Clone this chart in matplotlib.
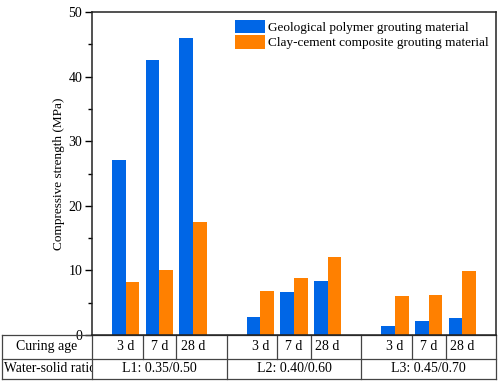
import matplotlib
matplotlib.use("Agg")
import matplotlib.pyplot as plt
from matplotlib.transforms import Bbox, TransformedBbox, blended_transform_factory
from matplotlib.ticker import MultipleLocator

plt.rcParams['font.family'] = ['Liberation Serif', 'DejaVu Serif']
plt.rcParams['font.size'] = 10

# data
ratios = ['L1: 0.35/0.50', 'L2: 0.40/0.60', 'L3: 0.45/0.70']
ages = ['3 d', '7 d', '28 d']
geopolymer = [27.1, 42.6, 46.0, 2.85, 6.7, 8.35, 1.35, 2.1, 2.6]
clay_cement = [8.15, 10.0, 17.5, 6.8, 8.8, 12.0, 6.1, 6.2, 9.85]
series_names = ['Geological polymer grouting material',
                'Clay-cement composite grouting material']
row_names = ['Curing age', 'Water-solid ratio']

BLUE = '#0066e6'
ORANGE = '#ff8000'
W = 0.41

fig = plt.figure(figsize=(4.98, 3.81), dpi=100)
ax = fig.add_axes([92 / 498, 46 / 381, 404 / 498, 323 / 381])

pos = [g * 4 + i for g in range(len(ratios)) for i in range(len(ages))]
ax.bar([p - W / 2 for p in pos], geopolymer, W, color=BLUE, label=series_names[0])
ax.bar([p + W / 2 for p in pos], clay_cement, W, color=ORANGE, label=series_names[1])

ax.set_xlim(-1, 11)
ax.set_ylim(0, 50)
ax.set_xticks([])
ax.yaxis.set_major_locator(MultipleLocator(10))
ax.yaxis.set_minor_locator(MultipleLocator(5))
ax.tick_params(axis='y', which='major', direction='out', length=5, width=1, pad=2)
ax.tick_params(axis='y', which='minor', direction='out', length=3, width=1)
ax.set_ylabel('Compressive strength (MPa)', labelpad=2.5, fontsize=9.5)
for s in ax.spines.values():
    s.set_linewidth(1.1)
    s.set_color('#222222')

ax.legend(loc='upper left', bbox_to_anchor=(0.354, 0.975), frameon=False,
          borderpad=0, borderaxespad=0, handlelength=2.25, handleheight=1.15,
          handletextpad=0.25, labelspacing=0.1, fontsize=9.5)

# table under the axes
tr = blended_transform_factory(ax.transData, ax.transAxes)
r1 = -0.0743
r2 = -0.136
left = -0.223
lc = '#444444'
lkw = dict(color=lc, lw=0.9, clip_on=False)
ax.plot([left, 1], [r1, r1], transform=ax.transAxes, **lkw)
ax.plot([left, 1], [r2, r2], transform=ax.transAxes, **lkw)
ax.plot([left, 1], [0, 0], transform=ax.transAxes, **lkw)
ax.plot([left, left], [r2, 0], transform=ax.transAxes, **lkw)
ax.plot([0, 0], [r2, 0], transform=ax.transAxes, **lkw)
ax.plot([1, 1], [r2, 0], transform=ax.transAxes, **lkw)
for g in range(len(ratios)):
    x0 = g * 4 - 1
    if g > 0:
        ax.plot([x0, x0], [r2, 0], transform=tr, **lkw)
    for i in range(len(ages) - 1):
        xs = g * 4 + i + 0.5
        ax.plot([xs, xs], [r1, 0], transform=tr, **lkw)
    for i, a in enumerate(ages):
        ax.text(g * 4 + i, r1 / 2, a, transform=tr, ha='center', va='center',
                clip_on=False)
    ax.text(g * 4 + 1, (r1 + r2) / 2, ratios[g], transform=tr, ha='center',
            va='center', clip_on=False)

ax.text(left / 2, r1 / 2, row_names[0], transform=ax.transAxes,
        ha='center', va='center', clip_on=False)
t = ax.text(left + 0.005, (r1 + r2) / 2, row_names[1], transform=ax.transAxes,
            ha='left', va='center', clip_on=True, fontsize=9.8)
t.set_clip_box(TransformedBbox(Bbox([[left, r2], [0, r1]]), ax.transAxes))

fig.savefig('out.png', dpi=100)
